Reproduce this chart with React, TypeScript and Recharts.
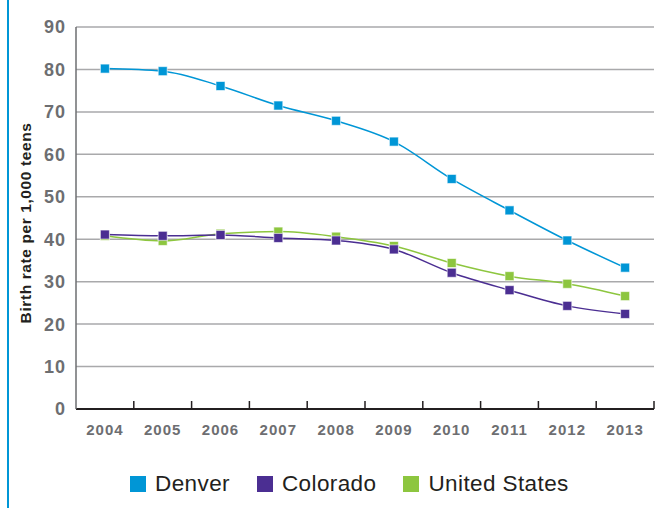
import React from "react";
import { LineChart, Line, XAxis, YAxis, CartesianGrid, Legend } from "recharts";

const years = ["2004", "2005", "2006", "2007", "2008", "2009", "2010", "2011", "2012", "2013"];
const denver = [80.2, 79.6, 76.1, 71.5, 67.9, 63.0, 54.2, 46.8, 39.7, 33.3];
const colorado = [41.1, 40.8, 41.0, 40.3, 39.7, 37.6, 32.1, 28.0, 24.3, 22.4];
const unitedStates = [40.8, 39.6, 41.3, 41.8, 40.6, 38.4, 34.4, 31.3, 29.5, 26.6];
const yTicks = [0, 10, 20, 30, 40, 50, 60, 70, 80, 90];

const seriesNames = ["Denver", "Colorado", "United States"];
const seriesColors = ["#0096d6", "#4b2e92", "#8dc63f"];

const data = years.map((y, i) => ({
  year: y,
  Denver: denver[i],
  Colorado: colorado[i],
  "United States": unitedStates[i],
}));

const FONT = '"Liberation Sans", Arial, Helvetica, sans-serif';
const HALF_STEP = 28.9;

const makeDot = (color: string) => (props: any) => {
  const { cx, cy, index } = props;
  if (cx == null || cy == null) return <g key={index} />;
  const s = 9;
  return (
    <rect
      key={index}
      x={cx - s / 2}
      y={cy - s / 2}
      width={s}
      height={s}
      fill={color}
      stroke="#ffffff"
      strokeOpacity={0.6}
      strokeWidth={1}
    />
  );
};

const XTick = (props: any) => {
  const { x, y, payload } = props;
  return (
    <g>
      <line x1={x + HALF_STEP} x2={x + HALF_STEP} y1={y} y2={y - 8} stroke="#231f20" strokeWidth={1.5} />
      <text
        x={x}
        y={y + 25.5}
        textAnchor="middle"
        fontFamily={FONT}
        fontWeight="bold"
        fontSize={15}
        letterSpacing={1}
        fill="#6d6e71"
      >
        {payload.value}
      </text>
    </g>
  );
};

const YTick = (props: any) => {
  const { x, y, payload } = props;
  return (
    <text
      x={x}
      y={y}
      dy="0.36em"
      textAnchor="end"
      fontFamily={FONT}
      fontWeight="bold"
      fontSize={18}
      letterSpacing={1}
      fill="#6d6e71"
    >
      {payload.value}
    </text>
  );
};

const YLabel = (props: any) => {
  const vb = props.viewBox || { x: 0, y: 27, height: 382 };
  const cx = 25;
  const cy = vb.y + vb.height / 2 + 5;
  return (
    <text
      x={cx}
      y={cy}
      transform={`rotate(-90, ${cx}, ${cy})`}
      textAnchor="middle"
      dominantBaseline="central"
      fontFamily={FONT}
      fontWeight="bold"
      fontSize={15.5}
      letterSpacing={0.6}
      fill="#231f20"
    >
      Birth rate per 1,000 teens
    </text>
  );
};

const LegendContent = () => (
  <div style={{ display: "flex", alignItems: "center", fontFamily: FONT, fontSize: 22.5, letterSpacing: 0.4, color: "#231f20" }}>
    {seriesNames.map((n, i) => (
      <div key={n} style={{ display: "flex", alignItems: "center", marginRight: 27 }}>
        <div style={{ width: 16, height: 16, background: seriesColors[i], marginRight: 9 }} />
        <span style={{ lineHeight: "18px" }}>{n}</span>
      </div>
    ))}
  </div>
);

export default function App() {
  return (
    <div style={{ position: "absolute", left: 0, top: 0, width: 661, height: 508, background: "#fff" }}>
      <div style={{ position: "absolute", left: 7, top: 0, width: 2, height: 508, background: "#0096d6" }} />
      <LineChart
        width={661}
        height={508}
        data={data}
        margin={{ top: 27, right: 7, bottom: 59, left: 0 }}
      >
        <CartesianGrid vertical={false} stroke="#a9a9ab" strokeWidth={1.5} />
        <XAxis
          dataKey="year"
          height={40}
          padding={{ left: HALF_STEP, right: HALF_STEP }}
          tickLine={false}
          tickSize={0}
          tickMargin={0}
          interval={0}
          axisLine={{ stroke: "#231f20", strokeWidth: 2 }}
          tick={<XTick />}
        />
        <YAxis
          width={76}
          domain={[0, 90]}
          ticks={yTicks}
          interval={0}
          tickLine={false}
          tickSize={0}
          tickMargin={10}
          axisLine={{ stroke: "#6d6e71", strokeWidth: 1.5 }}
          tick={<YTick />}
          label={<YLabel />}
        />
        <Legend
          layout="horizontal"
          verticalAlign="middle"
          align="center"
          content={<LegendContent />}
          wrapperStyle={{ position: "absolute", left: 130, top: 475, width: 520, height: 20 }}
        />
        <Line
          type="monotone"
          dataKey="Denver"
          stroke={seriesColors[0]}
          strokeWidth={1.5}
          dot={makeDot(seriesColors[0])}
          activeDot={false}
          isAnimationActive={false}
        />
        <Line
          type="monotone"
          dataKey="United States"
          stroke={seriesColors[2]}
          strokeWidth={1.5}
          dot={makeDot(seriesColors[2])}
          activeDot={false}
          isAnimationActive={false}
        />
        <Line
          type="monotone"
          dataKey="Colorado"
          stroke={seriesColors[1]}
          strokeWidth={1.5}
          dot={makeDot(seriesColors[1])}
          activeDot={false}
          isAnimationActive={false}
        />
      </LineChart>
    </div>
  );
}
